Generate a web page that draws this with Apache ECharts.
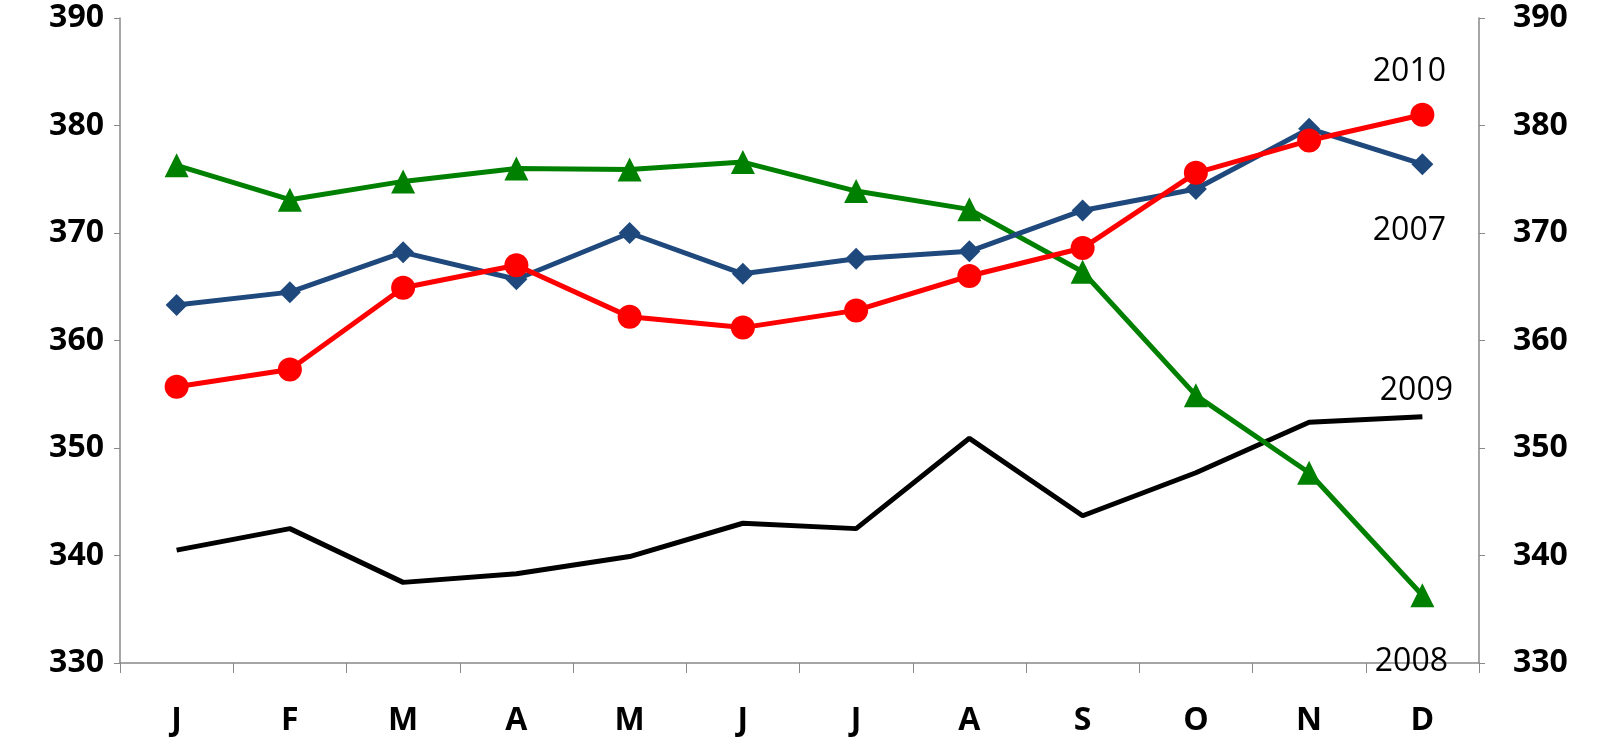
<!DOCTYPE html>
<html><head><meta charset="utf-8">
<script src="https://cdn.jsdelivr.net/npm/echarts@6/dist/echarts.min.js"></script>
<style>html,body{margin:0;background:#fff}#c{width:1601px;height:749px}</style>
</head><body><div id="c"></div>
<script>
const months = ['J','F','M','A','M','J','J','A','S','O','N','D'];
const yTicks = [330,340,350,360,370,380,390];
const s2007 = [363.3,364.5,368.2,365.7,370,366.2,367.6,368.3,372.1,374.1,379.7,376.4];
const s2010 = [355.7,357.3,364.9,367,362.2,361.2,362.8,366,368.6,375.6,378.6,381];
const s2008 = [376.3,373.1,374.8,376,375.9,376.6,373.9,372.2,366.4,354.9,347.7,336.3];
const s2009 = [340.5,342.5,337.5,338.3,339.9,343,342.5,350.9,343.7,347.7,352.4,352.9];

const chart = echarts.init(document.getElementById('c'));
const yAxisBase = {type:'value',min:yTicks[0],max:yTicks[yTicks.length-1],interval:10,
  axisLine:{show:true,lineStyle:{color:'#888',width:1.5}},
  axisTick:{show:true,length:6,lineStyle:{color:'#888'}},
  splitLine:{show:false},
  axisLabel:{color:'#000',fontSize:32,fontWeight:'bold',fontFamily:'Open Sans',margin:16}};
function ser(name,data,color,symbol,size,off){
  return {name,type:'line',data,yAxisIndex:0,symbol,symbolSize:size,
    lineStyle:{color,width:5},itemStyle:{color},
    endLabel:{show:true,formatter:name,fontSize:32,fontFamily:'Open Sans',color:'#000',align:'center',verticalAlign:'middle',offset:off,distance:0}};
}
chart.setOption({
  animation:false,
  grid:{left:120,right:122,top:18,bottom:86},
  xAxis:{type:'category',data:months,boundaryGap:true,
    axisLine:{lineStyle:{color:'#888',width:1.5}},
    axisTick:{show:true,length:10,lineStyle:{color:'#888'}},
    axisLabel:{color:'#000',fontSize:32,fontWeight:'bold',fontFamily:'Open Sans',margin:42}},
  yAxis:[Object.assign({position:'left'},yAxisBase),Object.assign({position:'right'},yAxisBase,{axisLabel:Object.assign({},yAxisBase.axisLabel,{margin:34})})],
  series:[
    ser('2009',s2009,'#000','none',0,[-6,-26]),
    ser('2008',s2008,'#008000','triangle',24,[-11,67]),
    ser('2007',s2007,'#1f497d','diamond',22,[-13,67]),
    ser('2010',s2010,'#ff0000','circle',24,[-13,-43])
  ]
});
</script></body></html>
